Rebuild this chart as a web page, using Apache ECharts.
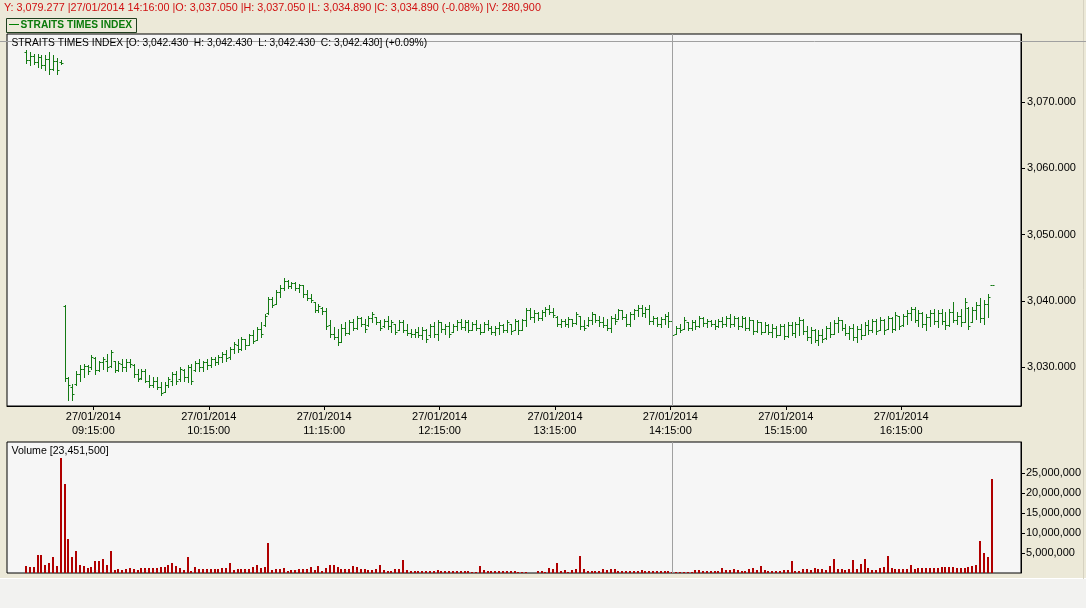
<!DOCTYPE html>
<html><head><meta charset="utf-8">
<script src="https://cdn.jsdelivr.net/npm/echarts@6/dist/echarts.min.js"></script>
<style>html,body{margin:0;padding:0;background:#ECE9D8;}#chart{width:1086px;height:608px;}</style>
</head><body><div id="chart"></div>
<script>
// 2-minute bars, 27/01/2014
const times = [
'08:40','08:42','08:44','08:46','08:48','08:50','08:52','08:54','08:56','08:58',
'09:00','09:02','09:04','09:06','09:08','09:10','09:12','09:14','09:16','09:18','09:20','09:22','09:24','09:26','09:28','09:30','09:32','09:34','09:36','09:38','09:40','09:42','09:44','09:46','09:48','09:50','09:52','09:54','09:56','09:58',
'10:00','10:02','10:04','10:06','10:08','10:10','10:12','10:14','10:16','10:18','10:20','10:22','10:24','10:26','10:28','10:30','10:32','10:34','10:36','10:38','10:40','10:42','10:44','10:46','10:48','10:50','10:52','10:54','10:56','10:58',
'11:00','11:02','11:04','11:06','11:08','11:10','11:12','11:14','11:16','11:18','11:20','11:22','11:24','11:26','11:28','11:30','11:32','11:34','11:36','11:38','11:40','11:42','11:44','11:46','11:48','11:50','11:52','11:54','11:56','11:58',
'12:00','12:02','12:04','12:06','12:08','12:10','12:12','12:14','12:16','12:18','12:20','12:22','12:24','12:26','12:28','12:30','12:32','12:34','12:36','12:38','12:40','12:42','12:44','12:46','12:48','12:50','12:52','12:54','12:56','12:58',
'13:00','13:02','13:04','13:06','13:08','13:10','13:12','13:14','13:16','13:18','13:20','13:22','13:24','13:26','13:28','13:30','13:32','13:34','13:36','13:38','13:40','13:42','13:44','13:46','13:48','13:50','13:52','13:54','13:56','13:58',
'14:00','14:02','14:04','14:06','14:08','14:10','14:12','14:14','14:16','14:18','14:20','14:22','14:24','14:26','14:28','14:30','14:32','14:34','14:36','14:38','14:40','14:42','14:44','14:46','14:48','14:50','14:52','14:54','14:56','14:58',
'15:00','15:02','15:04','15:06','15:08','15:10','15:12','15:14','15:16','15:18','15:20','15:22','15:24','15:26','15:28','15:30','15:32','15:34','15:36','15:38','15:40','15:42','15:44','15:46','15:48','15:50','15:52','15:54','15:56','15:58',
'16:00','16:02','16:04','16:06','16:08','16:10','16:12','16:14','16:16','16:18','16:20','16:22','16:24','16:26','16:28','16:30','16:32','16:34','16:36','16:38','16:40','16:42','16:44','16:46','16:48','16:50','16:52','16:54','16:56','16:58',
'17:00','17:02'];

const opens = [
3077.5,3076.3,3077.0,3076.0,3076.8,3075.6,3076.5,3075.0,3076.2,3076.0,
3039.3,3028.4,3027.0,3027.5,3029.0,3029.8,3030.2,3030.0,3031.4,3029.6,
3030.8,3031.0,3030.2,3030.9,3029.6,3030.5,3030.0,3030.8,3030.4,3029.0,
3028.4,3029.5,3028.0,3027.3,3028.0,3027.0,3026.3,3027.3,3028.0,3029.0,
3028.2,3029.6,3028.5,3030.0,3029.6,3030.6,3030.0,3030.8,3030.4,3031.2,
3030.8,3031.6,3032.0,3031.5,3032.8,3033.4,3032.8,3034.2,3033.4,3034.8,
3034.1,3035.8,3036.4,3038.2,3040.3,3039.6,3041.3,3042.0,3043.0,3042.3,
3042.7,3042.0,3042.4,3041.0,3040.4,3039.9,3038.6,3039.0,3038.5,3036.4,
3035.0,3034.6,3033.8,3036.0,3035.2,3036.8,3036.0,3037.5,3036.6,3036.4,
3037.5,3037.6,3036.9,3036.2,3037.0,3036.2,3036.5,3035.6,3036.8,3035.6,
3035.2,3035.0,3035.4,3034.9,3035.6,3034.8,3036.3,3035.0,3036.8,3035.8,
3036.2,3035.4,3036.3,3036.8,3036.1,3036.8,3035.6,3036.5,3035.9,3035.4,
3036.5,3036.0,3035.4,3035.9,3036.4,3035.7,3036.6,3035.6,3037.0,3035.6,
3037.1,3038.6,3037.6,3038.2,3037.5,3038.4,3038.8,3038.4,3037.6,3036.6,
3037.0,3036.6,3037.3,3036.7,3037.8,3036.2,3036.4,3037.2,3038.0,3037.2,
3036.8,3036.4,3036.0,3037.5,3037.3,3038.6,3037.6,3036.6,3038.0,3038.6,
3039.0,3038.2,3038.8,3037.0,3037.5,3036.6,3037.3,3037.8,3037.05,3035.1,
3035.9,3035.8,3036.8,3036.0,3036.8,3036.2,3037.5,3036.7,3037.0,3036.5,
3036.2,3037.0,3036.5,3037.5,3036.6,3037.5,3036.2,3037.5,3036.0,3037.1,
3035.5,3036.8,3035.4,3036.4,3035.4,3036.0,3034.9,3036.2,3034.7,3036.4,
3035.2,3036.5,3037.2,3035.5,3034.5,3035.6,3034.1,3034.9,3034.4,3035.9,
3035.1,3036.7,3037.1,3035.9,3035.2,3035.9,3034.5,3035.8,3034.8,3036.4,
3035.6,3037.0,3035.6,3037.2,3035.8,3037.4,3035.8,3037.8,3036.4,3037.8,
3038.2,3038.8,3037.2,3038.2,3036.5,3037.6,3038.2,3037.0,3038.2,3037.0,
3036.4,3038.4,3037.2,3037.8,3036.8,3039.0,3036.8,3038.6,3039.4,3037.4,
3039.6,3042.43];

const highs = [
3077.9,3077.6,3077.2,3077.3,3077.1,3077.1,3077.6,3077.1,3076.6,3076.3,
3039.4,3028.5,3027.5,3029.5,3030.3,3030.5,3030.3,3031.8,3031.5,3031.0,
3031.5,3032.0,3032.6,3031.0,3031.0,3031.2,3031.2,3031.3,3030.5,3029.8,
3029.8,3029.8,3028.8,3028.5,3028.5,3027.8,3027.8,3028.5,3029.3,3029.5,
3030.0,3029.8,3030.3,3030.5,3031.0,3031.3,3031.0,3031.3,3031.5,3031.5,
3031.8,3032.3,3032.6,3033.1,3033.8,3034.3,3034.6,3034.3,3035.1,3035.6,
3036.1,3036.8,3038.1,3040.6,3040.6,3041.6,3042.4,3043.4,3043.1,3042.9,
3042.9,3042.6,3042.4,3041.6,3041.1,3039.9,3039.6,3039.1,3038.9,3037.1,
3036.1,3035.8,3036.6,3036.8,3037.1,3037.3,3037.8,3037.6,3037.3,3037.8,
3038.3,3037.6,3037.1,3037.3,3037.8,3037.1,3036.6,3037.1,3037.1,3036.6,
3035.8,3035.8,3036.1,3036.1,3035.8,3036.6,3036.8,3037.1,3036.8,3036.6,
3036.8,3036.6,3037.1,3037.3,3037.1,3037.1,3036.8,3037.1,3036.6,3036.8,
3037.1,3036.3,3036.3,3036.8,3036.6,3037.1,3036.6,3037.3,3037.1,3037.3,
3038.9,3038.9,3038.6,3038.3,3038.7,3039.1,3039.35,3038.9,3037.8,3037.3,
3037.3,3037.6,3037.3,3038.3,3037.8,3037.1,3037.6,3038.3,3038.1,3037.8,
3037.6,3037.3,3037.8,3038.1,3038.85,3038.6,3038.1,3038.3,3038.85,3039.35,
3039.35,3039.1,3039.35,3037.8,3037.6,3037.6,3038.1,3038.3,3037.05,3036.3,
3036.6,3037.6,3036.8,3037.1,3037.1,3037.8,3037.6,3037.3,3037.1,3037.1,
3037.3,3037.6,3037.8,3038.1,3037.8,3037.6,3037.8,3037.6,3037.6,3037.1,
3037.1,3036.8,3036.8,3036.6,3036.6,3036.3,3036.6,3036.6,3036.8,3036.8,
3036.8,3037.6,3037.3,3036.3,3036.1,3035.8,3035.6,3035.8,3036.3,3036.8,
3037.1,3037.6,3037.1,3036.6,3036.3,3036.6,3036.3,3036.6,3036.8,3037.1,
3037.3,3037.3,3037.6,3037.3,3037.8,3037.6,3038.3,3037.8,3038.1,3038.6,
3039.1,3039.1,3038.6,3038.3,3038.1,3038.6,3038.8,3038.6,3038.8,3038.3,
3038.8,3039.9,3038.3,3038.8,3040.4,3039.1,3039.1,3039.9,3040.4,3040.1,
3041.1,3042.43];

const lows = [
3075.9,3075.6,3075.7,3075.3,3075.1,3074.8,3074.3,3074.8,3074.3,3075.7,
3028.0,3025.0,3025.0,3027.3,3028.0,3028.5,3029.0,3029.8,3029.0,3029.5,
3029.8,3029.5,3030.0,3029.3,3029.5,3029.5,3029.5,3030.0,3028.5,3028.0,
3028.3,3027.8,3027.0,3027.0,3026.8,3025.8,3026.3,3027.0,3027.3,3027.5,
3028.0,3028.0,3027.8,3027.5,3029.5,3029.5,3029.5,3029.8,3030.0,3030.3,
3030.5,3030.8,3031.0,3031.3,3032.1,3032.3,3032.6,3032.8,3033.3,3033.6,
3034.1,3034.6,3036.3,3038.1,3039.1,3039.6,3040.6,3041.6,3041.9,3041.9,
3041.6,3041.4,3040.6,3040.1,3039.9,3038.3,3038.3,3038.1,3035.8,3034.6,
3034.3,3033.3,3033.8,3034.8,3035.1,3035.6,3035.8,3036.3,3035.3,3036.3,
3036.8,3036.6,3035.6,3036.1,3035.8,3035.3,3035.1,3035.6,3035.3,3034.8,
3034.6,3034.6,3034.6,3034.3,3033.8,3034.6,3034.6,3034.1,3035.3,3035.1,
3034.6,3035.3,3035.6,3035.8,3035.6,3035.3,3035.6,3035.6,3035.1,3035.3,
3035.6,3035.1,3034.8,3035.1,3035.3,3035.3,3035.1,3035.6,3035.1,3035.6,
3036.3,3037.3,3036.8,3037.1,3037.2,3037.7,3038.1,3037.6,3036.3,3036.1,
3036.3,3036.1,3036.3,3036.6,3035.8,3035.6,3036.3,3036.6,3036.8,3036.3,
3036.1,3035.6,3035.3,3036.6,3037.3,3037.3,3036.3,3036.3,3037.3,3037.8,
3037.8,3037.6,3036.6,3036.6,3036.3,3036.1,3036.6,3036.1,3034.89,3035.1,
3035.3,3035.8,3035.6,3035.6,3035.8,3036.1,3036.3,3036.1,3036.3,3035.8,
3036.1,3036.1,3036.3,3036.1,3036.3,3035.8,3036.1,3035.6,3035.6,3035.1,
3035.3,3035.1,3035.3,3035.1,3034.6,3034.6,3034.8,3034.3,3034.6,3034.8,
3034.6,3034.8,3035.1,3034.1,3033.6,3033.8,3033.3,3033.8,3034.3,3034.6,
3035.1,3035.3,3035.6,3034.8,3034.3,3034.1,3033.8,3034.3,3034.8,3035.1,
3035.3,3035.1,3035.6,3035.1,3035.8,3035.3,3035.6,3035.8,3036.3,3036.6,
3037.1,3036.8,3036.3,3036.1,3035.6,3036.3,3036.6,3036.1,3036.6,3035.8,
3036.3,3036.8,3036.6,3036.3,3036.8,3035.8,3036.8,3037.3,3036.8,3036.6,
3037.6,3042.43];

const closes = [
3076.3,3077.0,3076.0,3076.8,3075.6,3076.5,3075.0,3076.2,3074.8,3075.9,
3028.4,3027.4,3026.0,3029.0,3029.8,3030.2,3029.5,3031.5,3029.6,3030.8,
3031.2,3030.0,3032.3,3029.6,3030.6,3030.0,3030.8,3030.5,3029.0,3028.3,
3029.5,3028.0,3027.3,3028.0,3027.0,3026.2,3027.3,3028.2,3029.0,3028.0,
3029.7,3028.5,3030.0,3028.0,3030.6,3030.0,3030.8,3030.4,3031.2,3030.8,
3031.6,3032.0,3031.4,3032.8,3033.5,3032.8,3034.3,3033.3,3034.8,3034.0,
3035.8,3035.0,3037.8,3040.3,3039.4,3041.3,3042.0,3043.0,3042.3,3042.7,
3042.0,3042.4,3041.0,3040.4,3040.1,3038.6,3039.2,3038.5,3036.2,3035.0,
3034.6,3033.8,3036.0,3035.2,3036.8,3036.0,3037.5,3036.6,3035.8,3037.5,
3038.0,3036.9,3036.0,3037.0,3036.2,3036.8,3035.4,3036.8,3035.6,3035.2,
3035.0,3035.4,3034.9,3035.7,3034.2,3036.3,3035.0,3036.8,3035.8,3036.2,
3035.0,3036.3,3036.8,3036.1,3036.8,3035.6,3036.5,3035.9,3035.4,3036.5,
3036.0,3035.4,3035.9,3036.4,3035.7,3036.8,3035.5,3037.0,3035.6,3037.1,
3038.6,3037.6,3038.2,3037.5,3038.4,3038.8,3038.4,3037.9,3036.6,3037.0,
3036.6,3037.3,3036.7,3038.0,3036.2,3035.9,3037.2,3038.0,3037.2,3036.8,
3036.4,3036.0,3037.5,3037.0,3038.6,3037.6,3036.6,3038.0,3038.6,3039.0,
3038.2,3038.8,3037.0,3037.5,3036.6,3037.3,3037.8,3037.0,3034.89,3035.9,
3035.6,3037.2,3036.0,3036.8,3036.2,3037.5,3036.7,3037.0,3036.5,3036.2,
3037.0,3036.5,3037.5,3036.6,3037.5,3036.2,3037.5,3036.0,3037.2,3035.5,
3036.8,3035.4,3036.4,3035.4,3036.0,3034.9,3036.2,3034.7,3036.4,3035.2,
3036.5,3037.2,3035.5,3034.5,3035.6,3034.1,3034.9,3034.2,3035.9,3035.0,
3036.7,3037.2,3035.9,3035.2,3035.9,3034.5,3035.8,3034.8,3036.4,3035.6,
3037.0,3035.5,3037.2,3035.6,3037.4,3035.8,3037.9,3036.3,3037.8,3038.2,
3038.8,3037.2,3038.2,3036.5,3037.6,3038.2,3037.0,3038.2,3037.0,3036.4,
3038.4,3037.2,3037.8,3036.8,3039.8,3036.3,3038.6,3039.4,3037.4,3039.6,
3040.6,3042.43];

const volumes = [
1800000,1400000,1400000,4400000,4600000,2100000,2400000,4100000,1800000,28800000,
22300000,8500000,3900000,5400000,2100000,1800000,1300000,1600000,3100000,2900000,
3600000,1900000,5400000,800000,900000,800000,900000,1300000,1100000,800000,
1200000,1200000,1200000,1300000,1200000,1600000,1500000,1900000,2600000,1700000,
1300000,800000,3900000,600000,1400000,1000000,900000,900000,900000,1100000,
1100000,1200000,1300000,2600000,700000,900000,900000,1100000,1100000,1600000,
2100000,1200000,1400000,7600000,800000,900000,1100000,1200000,600000,800000,
800000,900000,900000,900000,1600000,800000,1800000,600000,1200000,1900000,
2100000,1400000,1100000,1000000,900000,1700000,1400000,1100000,1000000,800000,
700000,900000,2100000,800000,400000,600000,1000000,1100000,3300000,800000,
600000,600000,500000,600000,600000,500000,400000,800000,400000,600000,
500000,400000,400000,400000,500000,400000,300000,300000,1800000,800000,
600000,400000,400000,400000,400000,
600000,400000,400000,250000,250000,250000,100000,100000,400000,400000,
200000,1250000,900000,2600000,600000,800000,250000,750000,900000,4300000,
900000,600000,400000,400000,600000,900000,750000,900000,900000,600000,
600000,400000,400000,400000,400000,750000,400000,400000,400000,400000,
400000,400000,400000,280900,250000,250000,250000,250000,250000,750000,
750000,600000,600000,600000,600000,600000,1250000,750000,750000,900000,
750000,600000,600000,900000,1250000,750000,1750000,750000,600000,600000,
600000,600000,750000,750000,3100000,600000,600000,900000,900000,750000,
1250000,900000,900000,750000,1750000,3600000,900000,1100000,750000,900000,
3300000,900000,2250000,3600000,1250000,750000,750000,1250000,1600000,4250000,
1250000,1100000,900000,900000,1100000,2100000,900000,1250000,1250000,1250000,
1250000,1250000,1250000,1600000,1600000,1400000,1600000,1250000,1250000,1250000,
1400000,1750000,2100000,8100000,5000000,3900000,23451500];

const priceTicks = [3030, 3040, 3050, 3060, 3070];
const volumeTicks = [5000000, 10000000, 15000000, 20000000, 25000000];
const timeTicks = ['09:15','10:15','11:15','12:15','13:15','14:15','15:15','16:15'];
const dateLabel = '27/01/2014';
const crossTime = '14:16';
const crossPrice = 3079.277;
const headerText = 'Y: 3,079.277 |27/01/2014 14:16:00 |O: 3,037.050 |H: 3,037.050 |L: 3,034.890 |C: 3,034.890 (-0.08%) |V: 280,900';
const seriesTitle = 'STRAITS TIMES INDEX [O: 3,042.430  H: 3,042.430  L: 3,042.430  C: 3,042.430] (+0.09%)';
const volumeTitle = 'Volume [23,451,500]';
const legendName = 'STRAITS TIMES INDEX';

const toMin = t => { const p = t.split(':'); return (+p[0]) * 60 + (+p[1]); };
const fmtTime = m => { const h = Math.floor(m / 60), mm = Math.round(m % 60); return (h < 10 ? '0' : '') + h + ':' + (mm < 10 ? '0' : '') + mm + ':00'; };
const fmtNum = (v, d) => v.toFixed(d).replace(/\B(?=(\d{3})+(?!\d))/g, ',');
const fmtPrice = v => { const s = v.toFixed(3).split('.'); return s[0].replace(/\B(?=(\d{3})+(?!\d))/g, ',') + '.' + s[1]; };

const ohlcData = times.map((t, i) => [toMin(t), opens[i], highs[i], lows[i], closes[i]]);
const volData = times.map((t, i) => [toMin(t), volumes[i]]);

const FONT = '"Liberation Sans", Arial, sans-serif';
const GREEN = '#137A13';
const RED = '#B00000';
const X_MIN = 510.1, X_MAX = 1037.3;

const chart = echarts.init(document.getElementById('chart'), null, { renderer: 'canvas' });

const option = {
  animation: false,
  backgroundColor: '#ECE9D8',
  textStyle: { fontFamily: FONT },
  grid: [
    { left: 7, top: 34, width: 1014, height: 372, show: true, backgroundColor: '#F6F6F6', borderColor: '#000', borderWidth: 1 },
    { left: 7, top: 442, width: 1014, height: 131, show: true, backgroundColor: '#F6F6F6', borderColor: '#000', borderWidth: 1 }
  ],
  xAxis: [
    { type: 'value', gridIndex: 0, min: X_MIN, max: X_MAX,
      axisLine: { show: true, lineStyle: { color: '#000' } },
      axisTick: { show: true, length: 4, lineStyle: { color: '#000' }, customValues: timeTicks.map(toMin) },
      axisLabel: { show: true, customValues: timeTicks.map(toMin), color: '#000', fontSize: 11, fontFamily: FONT, lineHeight: 14, margin: 4,
        formatter: v => dateLabel + '\n' + fmtTime(v) },
      splitLine: { show: false } },
    { type: 'value', gridIndex: 1, min: X_MIN, max: X_MAX,
      axisLine: { show: false }, axisTick: { show: false }, axisLabel: { show: false }, splitLine: { show: false } }
  ],
  yAxis: [
    { type: 'value', gridIndex: 0, position: 'right', min: 3024.17, max: 3080.26, scale: true,
      axisLine: { show: true, lineStyle: { color: '#000' } },
      axisTick: { show: true, length: 4, lineStyle: { color: '#000' }, customValues: priceTicks },
      axisLabel: { show: true, customValues: priceTicks, color: '#000', fontSize: 11, fontFamily: FONT, margin: 6, formatter: v => fmtPrice(v) },
      splitLine: { show: false } },
    { type: 'value', gridIndex: 1, position: 'right', min: 0, max: 32800000,
      axisLine: { show: true, lineStyle: { color: '#000' } },
      axisTick: { show: true, length: 4, lineStyle: { color: '#000' }, customValues: volumeTicks },
      axisLabel: { show: true, customValues: volumeTicks, color: '#000', fontSize: 11, fontFamily: FONT, margin: 5, formatter: v => fmtNum(v, 0) },
      splitLine: { show: false } }
  ],
  series: [
    { name: legendName, type: 'custom', xAxisIndex: 0, yAxisIndex: 0, clip: true,
      data: ohlcData,
      encode: { x: 0, y: [1, 2, 3, 4] },
      renderItem: (params, api) => {
        const x = api.value(0);
        const pH = api.coord([x, api.value(2)]);
        const pL = api.coord([x, api.value(3)]);
        const pO = api.coord([x, api.value(1)]);
        const pC = api.coord([x, api.value(4)]);
        const px = Math.round(pH[0]) + 0.5;
        const yo = Math.round(pO[1]) + 0.5, yc = Math.round(pC[1]) + 0.5;
        const st = { stroke: GREEN, lineWidth: 1 };
        const flat = Math.abs(pH[1] - pL[1]) < 0.5;
        return { type: 'group', children: [
          { type: 'line', shape: { x1: px, y1: Math.round(pH[1]), x2: px, y2: Math.round(pL[1]) + (flat ? 0 : 1) }, style: st },
          { type: 'line', shape: { x1: px - 2, y1: yo, x2: px, y2: yo }, style: st },
          { type: 'line', shape: { x1: px, y1: yc, x2: px + 2, y2: yc }, style: st }
        ] };
      } },
    { name: 'Volume', type: 'custom', xAxisIndex: 1, yAxisIndex: 1, clip: true,
      data: volData,
      encode: { x: 0, y: 1 },
      renderItem: (params, api) => {
        const x = api.value(0);
        const top = api.coord([x, api.value(1)]);
        const base = api.coord([x, 0]);
        const px = Math.round(top[0]) - 1;
        return { type: 'rect', shape: { x: px, y: Math.round(top[1]), width: 2, height: Math.round(base[1]) - Math.round(top[1]) }, style: { fill: RED } };
      } }
  ]
};
chart.setOption(option);

const cx = Math.round(chart.convertToPixel({ xAxisIndex: 0 }, toMin(crossTime))) + 0.5;
const cy = Math.round(chart.convertToPixel({ yAxisIndex: 0 }, crossPrice)) + 0.5;

chart.setOption({
  graphic: [
    { type: 'rect', shape: { x: 0, y: 579, width: 1086, height: 29 }, style: { fill: '#F2F2F0' }, z: -1 },
    { type: 'line', shape: { x1: 0, y1: 578.5, x2: 1086, y2: 578.5 }, style: { stroke: '#FFFFFF', lineWidth: 1 }, z: -1 },
    { type: 'line', shape: { x1: 1083.5, y1: 0, x2: 1083.5, y2: 579 }, style: { stroke: '#D6D2C2', lineWidth: 1 }, z: -1 },
    { type: 'text', x: 4, y: 8, style: { text: headerText, fill: '#D01010', font: '10.8px ' + FONT, verticalAlign: 'middle' } },
    { type: 'rect', shape: { x: 6.5, y: 18.5, width: 130, height: 14 }, style: { fill: 'none', stroke: '#1F3F1F', lineWidth: 1 } },
    { type: 'line', shape: { x1: 9, y1: 24.5, x2: 19, y2: 24.5 }, style: { stroke: '#008000', lineWidth: 1 } },
    { type: 'text', x: 20.5, y: 25.5, style: { text: legendName, fill: '#0A7A0A', font: 'bold 10.2px ' + FONT, verticalAlign: 'middle' } },
    { type: 'text', x: 11.5, y: 43, style: { text: seriesTitle, fill: '#000', font: '10.25px ' + FONT, verticalAlign: 'middle' }, z: 10 },
    { type: 'text', x: 11.5, y: 451, style: { text: volumeTitle, fill: '#000', font: '10.6px ' + FONT, verticalAlign: 'middle' }, z: 10 },
    { type: 'line', shape: { x1: 0, y1: cy, x2: 1086, y2: cy }, style: { stroke: '#A0A0A0', lineWidth: 1 }, z: 5 },
    { type: 'line', shape: { x1: cx, y1: 34, x2: cx, y2: 406 }, style: { stroke: '#A0A0A0', lineWidth: 1 }, z: 5 },
    { type: 'line', shape: { x1: cx, y1: 442, x2: cx, y2: 573 }, style: { stroke: '#A0A0A0', lineWidth: 1 }, z: 5 }
  ]
});
</script>
</body></html>
